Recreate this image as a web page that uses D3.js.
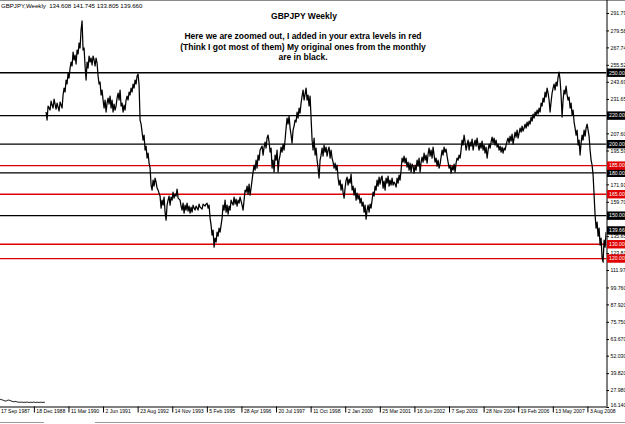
<!DOCTYPE html>
<html><head><meta charset="utf-8">
<script src="https://cdn.jsdelivr.net/npm/d3@7"></script>
<style>body{margin:0;background:#fff;}svg{display:block}</style>
</head><body><svg id="c" width="625" height="424"></svg>
<script>
const symbolHeader = "GBPJPY,Weekly  134.608 141.745 133.805 139.660";
const titleText = "GBPJPY Weekly";
const noteLines = [
  "Here we are zoomed out, I added in your extra levels in red",
  "(Think I got most of them) My original ones from the monthly",
  "are in black."
];
const blackLevels = [250, 220, 200, 180, 150];
const redLevels = [185, 165, 130, 120];
const lastPrice = 139.66;
const priceTicks = [291.79, 279.58, 267.74, 255.52, 243.69, 231.65, 207.60, 195.59, 171.91, 159.70, 135.65, 123.81, 111.97, 99.76, 87.92, 75.75, 63.67, 52.03, 39.82, 27.98, 16.14];
const dateTicks = ["1987-09-17","1988-12-18","1990-03-11","1991-06-02","1992-08-23","1993-11-14","1995-02-05","1996-04-28","1997-07-20","1998-10-11","2000-01-02","2001-03-25","2002-06-16","2003-09-07","2004-11-28","2006-02-19","2007-05-13","2008-08-03"];
const seriesStart = "1989-05-25";
const stepDays = 12.95;
const gbpjpy = [
222.5,216.9,226.7,225.3,223.9,230.2,227.4,225.3,231.6,228.1,
224.6,228.8,226.0,223.2,229.5,227.4,225.3,234.4,239.3,236.5,
244.9,242.1,249.8,246.3,253.3,257.5,254.7,264.5,258.9,262.4,
256.1,265.9,263.1,270.8,267.3,279.9,286.2,265.9,267.3,254.7,
244.9,257.5,253.3,261.7,257.5,260.3,255.4,261.7,258.9,254.7,
260.3,256.8,247.7,242.1,243.5,234.4,237.9,230.9,225.3,230.9,
222.5,228.8,232.3,228.1,233.7,225.3,230.9,222.5,228.1,223.9,
226.7,232.3,235.8,230.9,237.9,226.7,228.8,222.5,227.4,223.9,
230.9,233.7,230.9,236.5,234.4,239.3,236.5,242.1,239.3,244.9,
242.1,247.7,249.1,241.4,216.9,214.1,208.5,202.9,206.4,195.9,
198.7,190.3,193.8,186.8,183.3,171.4,167.9,174.9,170.7,176.3,
173.5,169.3,167.9,165.8,163.7,155.3,160.9,157.4,163.0,152.5,
146.9,157.4,160.9,163.7,157.4,163.0,160.9,166.5,162.3,165.1,
163.7,168.6,162.3,161.6,160.9,156.7,153.9,158.8,151.8,157.4,
153.9,158.8,153.2,156.7,151.8,156.0,152.5,157.4,155.3,153.9,
156.7,155.3,153.9,158.1,156.0,155.3,154.6,158.1,157.4,156.7,
158.1,158.8,155.3,157.4,148.3,143.4,136.4,139.9,128.0,134.3,
131.5,138.5,135.7,141.3,138.5,143.4,148.3,157.4,153.9,160.9,
152.5,157.4,151.1,156.7,153.9,160.9,158.8,157.4,163.0,158.1,
161.6,156.7,160.9,158.8,163.0,160.2,157.4,153.9,160.9,167.9,
166.5,170.7,165.1,172.1,164.4,169.3,174.9,180.5,185.4,181.9,
188.9,183.3,192.4,188.9,195.9,197.3,198.7,192.4,198.0,201.5,
197.3,204.3,206.4,201.5,194.5,197.3,183.3,188.9,180.5,192.4,
188.9,195.9,180.5,188.9,192.4,198.0,194.5,200.1,195.9,202.9,
211.3,218.3,214.1,219.7,211.3,206.4,200.8,209.9,212.7,216.9,
215.5,222.5,218.3,225.3,221.8,228.8,233.7,237.9,230.9,235.1,
239.3,230.9,234.4,226.7,233.7,218.3,202.9,195.9,204.3,192.4,
197.3,188.9,183.3,176.3,188.9,192.4,197.3,191.7,199.4,194.5,
198.0,191.7,195.9,198.0,190.3,195.9,190.3,187.5,183.3,186.8,
181.9,185.4,176.3,171.4,174.9,167.9,172.1,166.5,162.3,169.3,
174.9,177.0,171.4,175.6,172.8,179.1,167.9,170.7,164.4,169.3,
160.9,165.8,161.6,164.4,158.8,162.3,156.7,159.5,152.5,157.4,
147.6,153.9,157.4,152.5,158.1,155.3,160.9,166.5,163.7,170.7,
167.9,174.9,170.7,177.0,172.1,176.3,177.7,169.3,174.2,167.9,
176.3,172.8,177.7,170.7,174.9,171.4,176.3,171.4,173.5,172.1,
170.0,176.3,172.8,178.4,174.9,181.9,190.3,187.5,191.7,186.8,
190.3,184.0,187.5,181.9,186.8,180.5,186.1,184.7,179.8,185.4,
181.9,188.9,184.7,190.3,180.5,187.5,191.0,187.5,193.8,188.9,
192.4,186.8,193.1,197.3,191.7,195.9,190.3,198.0,192.4,187.5,
190.3,184.7,188.9,183.3,186.1,191.0,195.9,192.4,198.0,194.5,
196.6,191.7,187.5,183.3,185.4,179.8,184.7,181.9,186.1,180.5,
186.8,190.3,188.9,192.4,190.3,195.9,202.9,199.4,206.4,201.5,
195.9,199.4,202.9,195.9,201.5,198.7,203.6,195.9,200.1,202.9,
198.7,204.3,199.4,195.9,200.8,197.3,202.2,195.9,199.4,193.8,
198.0,190.3,195.9,200.1,197.3,201.5,205.0,200.8,204.3,199.4,
202.9,198.0,200.1,195.9,198.7,194.5,198.0,193.8,197.3,195.9,
199.4,202.2,204.3,200.8,205.7,202.2,207.1,200.1,204.3,208.5,
205.0,209.9,204.3,207.8,211.3,208.5,212.7,209.2,211.3,214.1,
211.3,215.5,212.7,216.2,214.1,219.0,216.2,221.1,218.3,222.5,
220.4,223.9,221.1,225.3,222.5,228.8,226.7,232.3,229.5,236.5,
233.0,239.3,235.8,230.9,222.5,229.5,235.8,239.3,242.1,237.9,
243.5,240.7,247.0,250.5,244.9,234.4,219.0,230.9,237.9,235.1,
240.7,234.4,230.9,233.0,225.3,228.8,220.4,223.9,215.5,211.3,
206.4,209.9,199.4,202.9,192.4,200.8,206.4,202.9,209.9,205.7,
211.3,214.1,209.9,205.7,195.9,188.9,185.4,178.4,164.4,150.4,
141.3,145.5,135.7,141.3,129.4,134.3,120.3,117.5,132.9,128.0,138.5
];
const strayStart = "1987-10-05";
const stray = [
21.6,21.4,21.2,21.0,20.6,20.4,20.3,20.6,20.9,21.0,
20.7,20.5,20.1,20.0,19.8,19.9,20.1,19.7,19.5,19.6,
19.4,19.5,19.6,19.4,19.3,19.5,19.4,19.6,19.5,19.3,
19.4,19.5,19.3,19.4,19.6,19.4,19.3,19.5,19.4,19.3,
19.4,19.5,19.4,19.3,19.5,19.4
];

const W = 625, H = 424;
const plot = {left: 0, right: 606.5, top: 0, bottom: 406.5};
const parse = d3.timeParse("%Y-%m-%d");
const DAY = 86400000;
const tickDates = dateTicks.map(parse);

const x = d3.scaleTime().domain([tickDates[0], tickDates[tickDates.length - 1]]).range([-1.5, 587.4]);
const y = d3.scaleLinear().domain([16.14, 291.79]).range([407, 13]);

const svg = d3.select("#c");
const FONT = "'Liberation Sans', Arial, sans-serif";

svg.append("rect").attr("width", W).attr("height", H).attr("fill", "#fff");

svg.append("defs").append("clipPath").attr("id", "pc")
  .append("rect").attr("x", plot.left).attr("y", plot.top)
  .attr("width", plot.right - plot.left).attr("height", plot.bottom - plot.top);

// window frame lines
svg.append("line").attr("x1", 0).attr("x2", W).attr("y1", 0.5).attr("y2", 0.5).attr("stroke", "#8a8a8a").attr("stroke-width", 1);
svg.append("line").attr("x1", 0).attr("x2", 44).attr("y1", 422.5).attr("y2", 422.5).attr("stroke", "#9a9a9a").attr("stroke-width", 1);
svg.append("line").attr("x1", 95).attr("x2", W).attr("y1", 422.5).attr("y2", 422.5).attr("stroke", "#9a9a9a").attr("stroke-width", 1);

const g = svg.append("g").attr("clip-path", "url(#pc)");

// levels
blackLevels.forEach(v => {
  g.append("line").attr("x1", plot.left).attr("x2", plot.right)
    .attr("y1", y(v)).attr("y2", y(v)).attr("stroke", "#000").attr("stroke-width", 1.3);
});
redLevels.forEach(v => {
  g.append("line").attr("x1", plot.left).attr("x2", plot.right)
    .attr("y1", y(v)).attr("y2", y(v)).attr("stroke", "#dd0000").attr("stroke-width", 1.3);
});

// price series
const series = gbpjpy.map((v, i) => ({date: new Date(parse(seriesStart).getTime() + i * stepDays * DAY), v}));
const straySeries = stray.map((v, i) => ({date: new Date(parse(strayStart).getTime() + i * stepDays * DAY), v}));
const line = d3.line().x(d => x(d.date)).y(d => y(d.v));
g.append("path").datum(series).attr("d", line).attr("fill", "none").attr("stroke", "#000").attr("stroke-width", 1.25).attr("stroke-linejoin", "round");
g.append("path").datum(straySeries).attr("d", line).attr("fill", "none").attr("stroke", "#000").attr("stroke-width", 0.9);

// texts
svg.append("text").attr("x", 1).attr("y", 7.5).attr("font-family", FONT).attr("font-size", 6.1)
  .attr("fill", "#000").attr("xml:space", "preserve").text(symbolHeader);
svg.append("text").attr("x", 304).attr("y", 18.5).attr("text-anchor", "middle")
  .attr("font-family", FONT).attr("font-weight", "bold").attr("font-size", 8.5).attr("fill", "#000").text(titleText);
noteLines.forEach((t, i) => {
  svg.append("text").attr("x", 303).attr("y", 39 + i * 10.5).attr("text-anchor", "middle")
    .attr("font-family", FONT).attr("font-weight", "bold").attr("font-size", 8.5).attr("fill", "#000").text(t);
});

// right axis
const fmtPrice = v => v >= 100 ? v.toFixed(2) : v.toFixed(3);
const ra = svg.append("g").attr("transform", `translate(${plot.right},0)`)
  .call(d3.axisRight(y).tickValues(priceTicks).tickFormat(fmtPrice).tickSize(2.5).tickPadding(1.5));
ra.select(".domain").attr("d", `M0.5,0V${plot.bottom}`).attr("stroke", "#000");
ra.selectAll("text").attr("font-family", FONT).attr("font-size", 5.2).attr("fill", "#000");
ra.selectAll("line").attr("stroke", "#000");
// keep the lowest price label clear of the last date label
ra.selectAll(".tick").filter(d => d === d3.min(priceTicks)).select("text").attr("dy", "-0.05em");

// highlighted level labels
function tag(v, fill) {
  svg.append("rect").attr("x", plot.right + 0.5).attr("y", y(v) - 4.2).attr("width", 20).attr("height", 8.4).attr("fill", fill);
  svg.append("text").attr("x", plot.right + 2.5).attr("y", y(v)).attr("dy", "0.35em")
    .attr("font-family", FONT).attr("font-size", 5.2).attr("fill", "#fff").text(v.toFixed(2));
}
blackLevels.forEach(v => tag(v, "#000"));
redLevels.forEach(v => tag(v, "#e00000"));
tag(lastPrice, "#000");

// bottom axis
const fmtDate = d3.timeFormat("%-d %b %Y");
const ba = svg.append("g").attr("transform", `translate(0,${plot.bottom})`)
  .call(d3.axisBottom(x).tickValues(tickDates).tickFormat(fmtDate).tickSize(6));
ba.select(".domain").attr("d", `M${plot.left},0.5H${plot.right + 1}`).attr("stroke", "#000");
ba.selectAll("line").attr("stroke", "#000");
ba.selectAll("text").attr("text-anchor", "start").attr("x", 2).attr("y", 4.5).attr("dy", "0.35em")
  .attr("font-family", FONT).attr("font-size", 5.1).attr("fill", "#000");
</script></body></html>
